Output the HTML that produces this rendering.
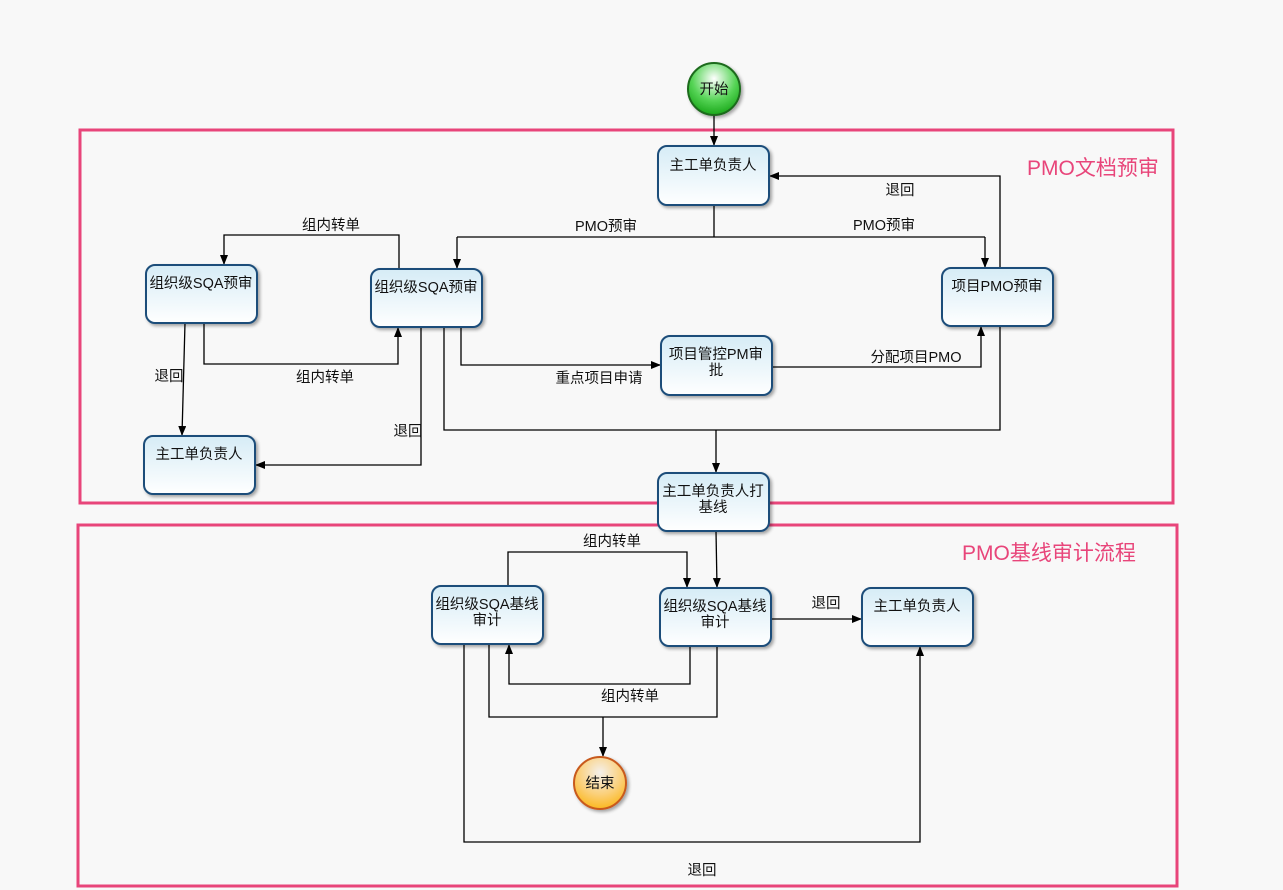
<!DOCTYPE html>
<html><head><meta charset="utf-8"><style>
html,body{margin:0;padding:0;background:#f8f8f8;}
svg{display:block;font-family:"Liberation Sans","Noto Sans CJK SC",sans-serif;}
</style></head><body>
<svg width="1283" height="890" viewBox="0 0 1283 890" xmlns="http://www.w3.org/2000/svg">
<defs>
<linearGradient id="bx" x1="0" y1="0" x2="0" y2="1"><stop offset="0" stop-color="#d6ecf6"/><stop offset="1" stop-color="#ffffff"/></linearGradient>
<radialGradient id="gr" cx="0.5" cy="0.3" r="0.7"><stop offset="0" stop-color="#ffffff"/><stop offset="0.6" stop-color="#56d456"/><stop offset="1" stop-color="#1aa81a"/></radialGradient>
<radialGradient id="or" cx="0.5" cy="0.3" r="0.7"><stop offset="0" stop-color="#f4f0ec"/><stop offset="0.6" stop-color="#fbd07a"/><stop offset="1" stop-color="#fbb820"/></radialGradient>
<marker id="a" markerWidth="10" markerHeight="10" refX="9" refY="4" orient="auto" markerUnits="userSpaceOnUse"><path d="M0,0 L10,4 L0,8 z" fill="#000"/></marker>
<filter id="sh" x="-10%" y="-10%" width="130%" height="130%"><feDropShadow dx="2" dy="2" stdDeviation="1.5" flood-color="#000" flood-opacity="0.35"/></filter>
</defs>
<rect x="80" y="130" width="1093" height="373" fill="none" stroke="#e8457a" stroke-width="3"/>
<rect x="78" y="525" width="1099" height="361" fill="none" stroke="#e8457a" stroke-width="3"/>
<text x="1027" y="175" font-size="21" fill="#e8457a">PMO文档预审</text>
<text x="962" y="560" font-size="21" fill="#e8457a">PMO基线审计流程</text>
<g fill="none" stroke="#000" stroke-width="1.3">
<path d="M714,115 V145" marker-end="url(#a)"/>
<path d="M714,205 V237"/>
<path d="M457,237 H985"/>
<path d="M457,237 V268" marker-end="url(#a)"/>
<path d="M985,237 V267" marker-end="url(#a)"/>
<path d="M1000,268 V176 H770" marker-end="url(#a)"/>
<path d="M399,269 V235 H224 V264" marker-end="url(#a)"/>
<path d="M204,323 V364 H398 V328" marker-end="url(#a)"/>
<path d="M185,323 L182,435" marker-end="url(#a)"/>
<path d="M421,327 V465 H256" marker-end="url(#a)"/>
<path d="M461,327 V365 H660" marker-end="url(#a)"/>
<path d="M772,367 H981 V327" marker-end="url(#a)"/>
<path d="M444,327 V430 H1000 V326"/>
<path d="M716,430 V472" marker-end="url(#a)"/>
<path d="M716,531 L717,587" marker-end="url(#a)"/>
<path d="M508,586 V552 H687 V587" marker-end="url(#a)"/>
<path d="M771,619 H861" marker-end="url(#a)"/>
<path d="M690,646 V684 H509 V645" marker-end="url(#a)"/>
<path d="M489,644 V717 H717 V646"/>
<path d="M603,717 V756" marker-end="url(#a)"/>
<path d="M464,644 V842 H920 V647" marker-end="url(#a)"/>
</g>
<g font-size="14.5" fill="#111" text-anchor="middle">
<text x="606" y="231">PMO预审</text>
<text x="884" y="230">PMO预审</text>
<text x="900" y="195">退回</text>
<text x="331" y="230">组内转单</text>
<text x="325" y="382">组内转单</text>
<text x="169" y="381">退回</text>
<text x="408" y="436">退回</text>
<text x="599" y="383">重点项目申请</text>
<text x="916" y="362">分配项目PMO</text>
<text x="612" y="546">组内转单</text>
<text x="826" y="608">退回</text>
<text x="630" y="701">组内转单</text>
<text x="702" y="875">退回</text>
</g>
<g stroke="#1d4e7a" stroke-width="2" fill="url(#bx)" filter="url(#sh)">
<rect x="658" y="146" width="111" height="59" rx="9"/>
<rect x="146" y="265" width="111" height="58" rx="9"/>
<rect x="371" y="269" width="111" height="58" rx="9"/>
<rect x="942" y="268" width="111" height="58" rx="9"/>
<rect x="661" y="336" width="111" height="59" rx="9"/>
<rect x="144" y="436" width="111" height="58" rx="9"/>
<rect x="658" y="473" width="111" height="58" rx="9"/>
<rect x="432" y="586" width="111" height="58" rx="9"/>
<rect x="660" y="588" width="111" height="58" rx="9"/>
<rect x="862" y="588" width="111" height="58" rx="9"/>
</g>
<circle cx="714" cy="89" r="26" fill="url(#gr)" stroke="#1d6a1d" stroke-width="2" filter="url(#sh)"/>
<circle cx="600" cy="783" r="26" fill="url(#or)" stroke="#c85a1e" stroke-width="2" filter="url(#sh)"/>
<g font-size="14.5" fill="#111" text-anchor="middle">
<text x="714" y="94">开始</text>
<text x="600" y="788">结束</text>
<text x="713" y="170">主工单负责人</text>
<text x="201" y="288">组织级SQA预审</text>
<text x="426" y="292">组织级SQA预审</text>
<text x="997" y="291">项目PMO预审</text>
<text x="716" y="359">项目管控PM审</text>
<text x="716" y="375">批</text>
<text x="199" y="459">主工单负责人</text>
<text x="713" y="496">主工单负责人打</text>
<text x="713" y="512">基线</text>
<text x="487" y="609">组织级SQA基线</text>
<text x="487" y="625">审计</text>
<text x="715" y="611">组织级SQA基线</text>
<text x="715" y="627">审计</text>
<text x="917" y="611">主工单负责人</text>
</g>
</svg>
</body></html>
